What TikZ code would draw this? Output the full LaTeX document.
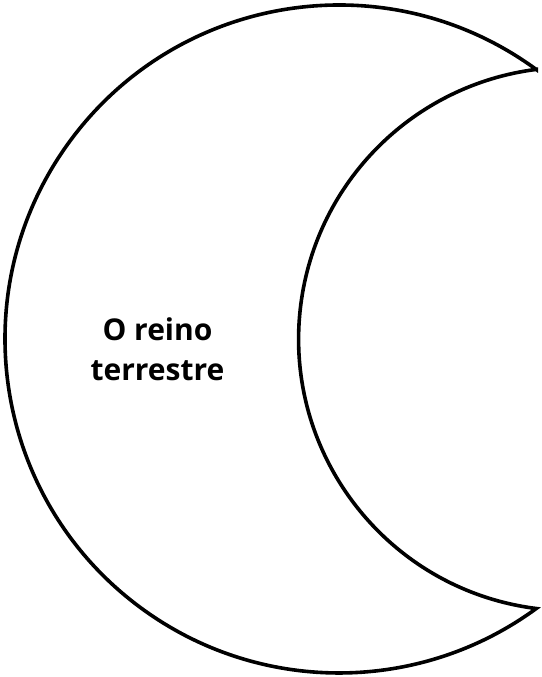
\documentclass[tikz,border=0pt]{standalone}
\usepackage{fontspec}
\setmainfont{Open Sans}
\usepackage{tikz}
\usetikzlibrary{calc}

\begin{document}
\begin{tikzpicture}[x=1pt,y=1pt,
  moonline/.style={line width=3.6pt, line join=miter, miter limit=20},
  moonlabel/.style={align=center, font=\fontsize{30}{40}\selectfont\bfseries}]
\useasboundingbox (0,0) rectangle (541,677);

% crescent: outer arc to the left, inner arc back
\coordinate (outerc) at (339,338);
\coordinate (tipup) at ($(outerc)+(53.8:334)$);
\draw[moonline] (tipup) arc[start angle=53.8, end angle=306.2, radius=334]
      arc[start angle=262.8, end angle=97.2, radius=271.7] -- cycle;

\node[moonlabel] (reino) at (157.5,328) {O reino\\terrestre};

\end{tikzpicture}
\end{document}
